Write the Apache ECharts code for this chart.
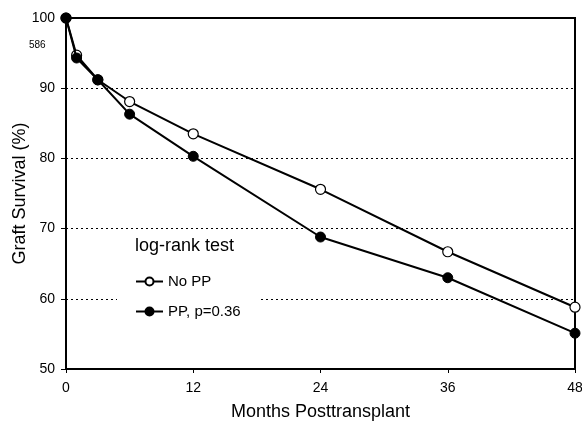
<!DOCTYPE html>
<html>
<head>
<meta charset="utf-8">
<script src="https://cdn.jsdelivr.net/npm/echarts@6/dist/echarts.min.js"></script>
<style>
  html, body { margin: 0; padding: 0; background: #fff; }
  #chart { width: 582px; height: 429px; }
</style>
</head>
<body>
<div id="chart"></div>
<script>
  // months after transplant
  const months = [0, 1, 3, 6, 12, 24, 36, 48]
  const noPP = [100, 94.7, 91.2, 88.1, 83.5, 75.6, 66.7, 58.8]
  const pp = [100, 94.3, 91.2, 86.3, 80.3, 68.8, 63.0, 55.1]
  const xTicks = [0, 12, 24, 36, 48]

  const font = 'Liberation Sans, Arial, sans-serif'
  const dom = echarts.init(document.getElementById('chart'))

  const pairs = (ys) => months.map((m, i) => [m, ys[i]])

  const option = {
    animation: false,
    backgroundColor: '#fff',
    textStyle: { fontFamily: font, color: '#000' },
    grid: {
      left: 66, right: 7, top: 18, bottom: 60,
      outerBoundsMode: 'none',
      containLabel: false,
      show: true, borderColor: '#000', borderWidth: 2
    },
    graphic: [
      { type: 'text', left: 29, top: 40, style: { text: '586', font: '10px ' + font, fill: '#000' } },
      { type: 'text', left: 135, top: 237, z: 10, style: { text: 'log-rank test', font: '18px ' + font, fill: '#000' } }
    ],
    legend: {
      orient: 'vertical',
      left: 117,
      top: 268,
      padding: [6, 20, 6, 18],
      backgroundColor: '#fff',
      itemWidth: 27,
      itemHeight: 10,
      itemGap: 15,
      textStyle: { fontSize: 15, fontFamily: font, color: '#000' },
      data: ['No PP', 'PP, p=0.36']
    },
    xAxis: {
      type: 'value',
      min: 0, max: 48, interval: 12,
      name: 'Months Posttransplant',
      nameLocation: 'middle',
      nameGap: 34,
      nameMoveOverlap: false,
      nameTextStyle: { fontSize: 18, fontFamily: font, color: '#000' },
      axisLine: { lineStyle: { color: '#000', width: 2 } },
      axisTick: { length: 4, lineStyle: { color: '#000' } },
      axisLabel: { fontSize: 14, color: '#000', margin: 12,
        formatter: (v) => xTicks.includes(v) ? String(v) : '' },
      splitLine: { show: false }
    },
    yAxis: {
      type: 'value',
      min: 50, max: 100, interval: 10,
      name: 'Graft Survival (%)',
      nameLocation: 'middle',
      nameGap: 37,
      nameMoveOverlap: false,
      nameTextStyle: { fontSize: 18, fontFamily: font, color: '#000' },
      axisLine: { show: true, lineStyle: { color: '#000', width: 2 } },
      axisTick: { show: true, length: 5, lineStyle: { color: '#000' } },
      axisLabel: { fontSize: 14, color: '#000', margin: 11 },
      splitLine: { show: true, lineStyle: { color: '#000', type: [2, 3], width: 1 } }
    },
    series: [
      {
        name: 'No PP',
        type: 'line',
        data: pairs(noPP),
        symbol: 'circle',
        symbolSize: 10,
        z: 3,
        lineStyle: { color: '#000', width: 2 },
        itemStyle: { color: '#fff', borderColor: '#000', borderWidth: 1.2 }
      },
      {
        name: 'PP, p=0.36',
        type: 'line',
        data: pairs(pp),
        symbol: 'circle',
        symbolSize: 10,
        z: 4,
        lineStyle: { color: '#000', width: 2 },
        itemStyle: { color: '#000', borderColor: '#000', borderWidth: 1 }
      }
    ]
  }

  dom.setOption(option)
</script>
</body>
</html>
